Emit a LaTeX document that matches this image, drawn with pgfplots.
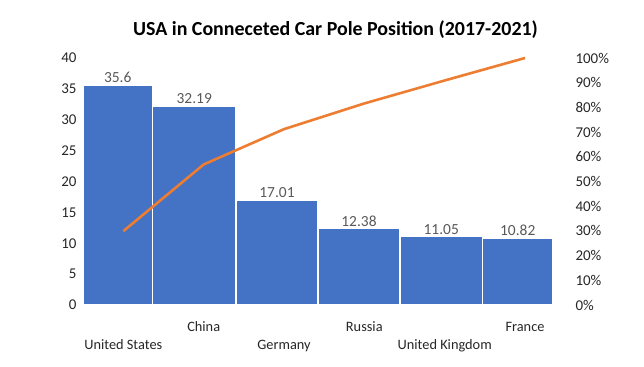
\documentclass[border=0pt]{standalone}
\usepackage{fontspec}
\setmainfont{Carlito}
\usepackage{pgfplots}
\pgfplotsset{compat=1.18}
\definecolor{barblue}{HTML}{4472C4}
\definecolor{lineorange}{HTML}{ED7D31}
\definecolor{lblgray}{HTML}{595959}
\definecolor{txt}{HTML}{262626}
\begin{document}
\begin{tikzpicture}[x=1bp,y=1bp]
\useasboundingbox (0,0) rectangle (644,366);
\node[font=\fontsize{20}{24}\selectfont\bfseries, text=black] at (335.5,336) {USA in Conneceted Car Pole Position (2017-2021)};
\begin{axis}[at={(83bp,61bp)}, anchor=south west, scale only axis,
  width=470bp, height=247bp,
  xmin=83, xmax=553, ymin=0, ymax=40,
  axis line style={draw=none}, tick style={draw=none},
  /pgf/number format/assume math mode=true,
  ytick={0,5,...,40},
  yticklabel style={font=\fontsize{15}{17}\selectfont, text=txt, xshift=-3bp},
  xtick={123.3,203.7,284,364.3,444.7,525},
  xticklabels={{\strut\\United States},\strut China,{\strut\\Germany},\strut Russia,{\strut\\United Kingdom},\strut France},
  xticklabel style={font=\fontsize{14.4}{18}\selectfont, text=txt, align=center, yshift=-10.5bp},
  clip=false]
\addplot[ybar interval, fill=barblue, draw=white, line width=1.3bp] coordinates {
 (83,35.6)(152.5,32.19)(236,17.01)(318,12.38)(400,11.05)(482.5,10.82)(553,0)};
\addplot[draw=none, mark=none, nodes near coords, point meta=explicit symbolic,
  nodes near coords style={text=lblgray, font=\fontsize{15.5}{17}\selectfont, anchor=south, inner sep=2bp}]
 table[meta=l] {
x y l
117.75 35.6 35.6
194.25 32.19 32.19
277 17.01 17.01
359 12.38 12.38
441.25 11.05 11.05
517.75 10.82 10.82
};
\end{axis}
\begin{axis}[at={(83bp,61bp)}, anchor=south west, scale only axis,
  width=470bp, height=247bp,
  xmin=83, xmax=553, ymin=0, ymax=100,
  axis y line*=right, hide x axis,
  axis line style={draw=none}, tick style={draw=none},
  /pgf/number format/assume math mode=true,
  ytick={0,10,...,100},
  yticklabel={\pgfmathprintnumber{\tick}\%},
  yticklabel style={font=\fontsize{15}{17}\selectfont, text=txt, anchor=west, xshift=19bp},
  clip=false]
\addplot[lineorange, line width=2.6bp, mark=none] coordinates {
 (123.3,29.9)(203.7,56.9)(284,71.2)(364.3,81.6)(444.7,90.9)(525,100)};
\end{axis}
\end{tikzpicture}
\end{document}
